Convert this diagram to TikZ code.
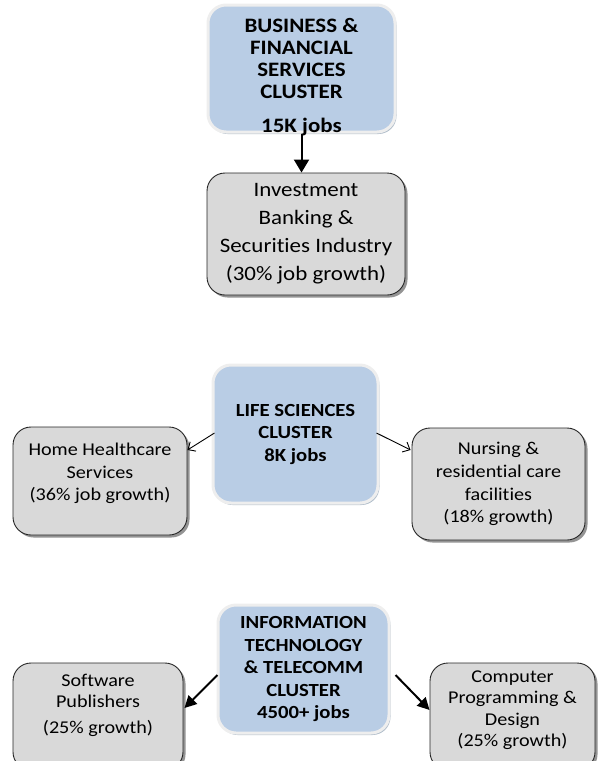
\documentclass[tikz,border=0pt]{standalone}
\usepackage{fontspec}
\setmainfont{Carlito}[FakeStretch=1.12, Ligatures=NoCommon]
\usetikzlibrary{shadows,arrows.meta,calc}
\definecolor{clblue}{HTML}{B9CDE5}
\definecolor{clgray}{HTML}{D9D9D9}
\definecolor{clrim}{HTML}{EEEEEE}
\definecolor{clbshadow}{HTML}{9EAEBE}
\definecolor{clborder}{HTML}{262626}
\begin{document}
\begin{tikzpicture}[x=1pt,y=-1pt,
  cluster/.style={rectangle, rounded corners=18pt, fill=clblue, draw=clrim,
    line width=3pt,
    drop shadow={shadow xshift=1.5pt, shadow yshift=-2pt, fill=clbshadow, opacity=0.8},
    font=\bfseries\fontsize{18.5}{22.5}\selectfont, align=center, inner sep=0pt},
  industry/.style={rectangle, rounded corners=18pt, fill=clgray, draw=clborder,
    line width=0.9pt,
    drop shadow={shadow xshift=2.5pt, shadow yshift=-2.5pt, fill=black!60, opacity=0.7},
    font=\fontsize{18}{22.7}\selectfont, align=center, inner sep=0pt},
  txt/.style={align=center, inner sep=0pt},
  bigarrow/.style={line width=2pt, -{Triangle[length=13pt,width=15pt]}},
  midarrow/.style={line width=2pt, -{Triangle[length=12pt,width=12pt]}},
  thinarrow/.style={line width=0.9pt, -{Straight Barb[length=6pt,width=11pt]}},
]
\useasboundingbox (0,0) rectangle (603,761);
\clip (0,0) rectangle (603,761);

% ---- Business & Financial Services
\node[cluster, minimum width=187pt, minimum height=127pt] (biz) at (301.5,68.5) {};
\node[txt, font=\bfseries\fontsize{20.5}{22}\selectfont] (biztext) at (301.5,77)
  {BUSINESS \&\\FINANCIAL\\SERVICES\\CLUSTER\\[12pt]15K jobs};
\node[industry, minimum width=198pt, minimum height=122pt,
      font=\fontsize{20.5}{28}\selectfont] (inv) at (306,234)
  {Investment\\Banking \&\\Securities Industry\\(30\% job growth)};
\draw[bigarrow] (biz.south) -- (biz.south |- inv.north);

% ---- Life Sciences
\node[cluster, minimum width=165pt, minimum height=138pt] (life) at (295.5,434)
  {LIFE SCIENCES\\CLUSTER\\8K jobs};
\node[industry, minimum width=174pt, minimum height=108pt] (home) at (100,481) {};
\node[txt, font=\fontsize{18}{22.7}\selectfont] (hometext) at (100,473.5)
  {Home Healthcare\\Services\\(36\% job growth)};
\node[industry, minimum width=173pt, minimum height=112pt] (nurse) at (498.5,484)
  {Nursing \&\\residential care\\facilities\\(18\% growth)};
\draw[thinarrow] ($(life.west)+(3,-1)$) -- ($(home.east)+(0,-31)$);
\draw[thinarrow] ($(life.east)+(-3,-1)$) -- ($(nurse.west)+(-1,-34)$);

% ---- Information Technology
\node[cluster, minimum width=171pt, minimum height=128pt] (it) at (303.5,669)
  {INFORMATION\\TECHNOLOGY\\\& TELECOMM\\CLUSTER\\4500+ jobs};
\node[industry, minimum width=170pt, minimum height=107pt] (soft) at (98,716.5) {};
\node[txt, font=\fontsize{18}{21.5}\selectfont] (softtext) at (98,705)
  {Software\\Publishers\\[4pt](25\% growth)};
\node[industry, minimum width=165pt, minimum height=107pt] (comp) at (512.5,716.5) {};
\node[txt, font=\fontsize{18}{21.5}\selectfont] (comptext) at (512.5,710)
  {Computer\\Programming \&\\Design\\(25\% growth)};
\draw[midarrow] ($(it.west)+(1,6)$) -- ($(soft.east)+(1,-8.5)$);
\draw[midarrow] ($(it.east)+(5,6)$) -- ($(comp.west)+(0,-6.5)$);
\end{tikzpicture}
\end{document}
